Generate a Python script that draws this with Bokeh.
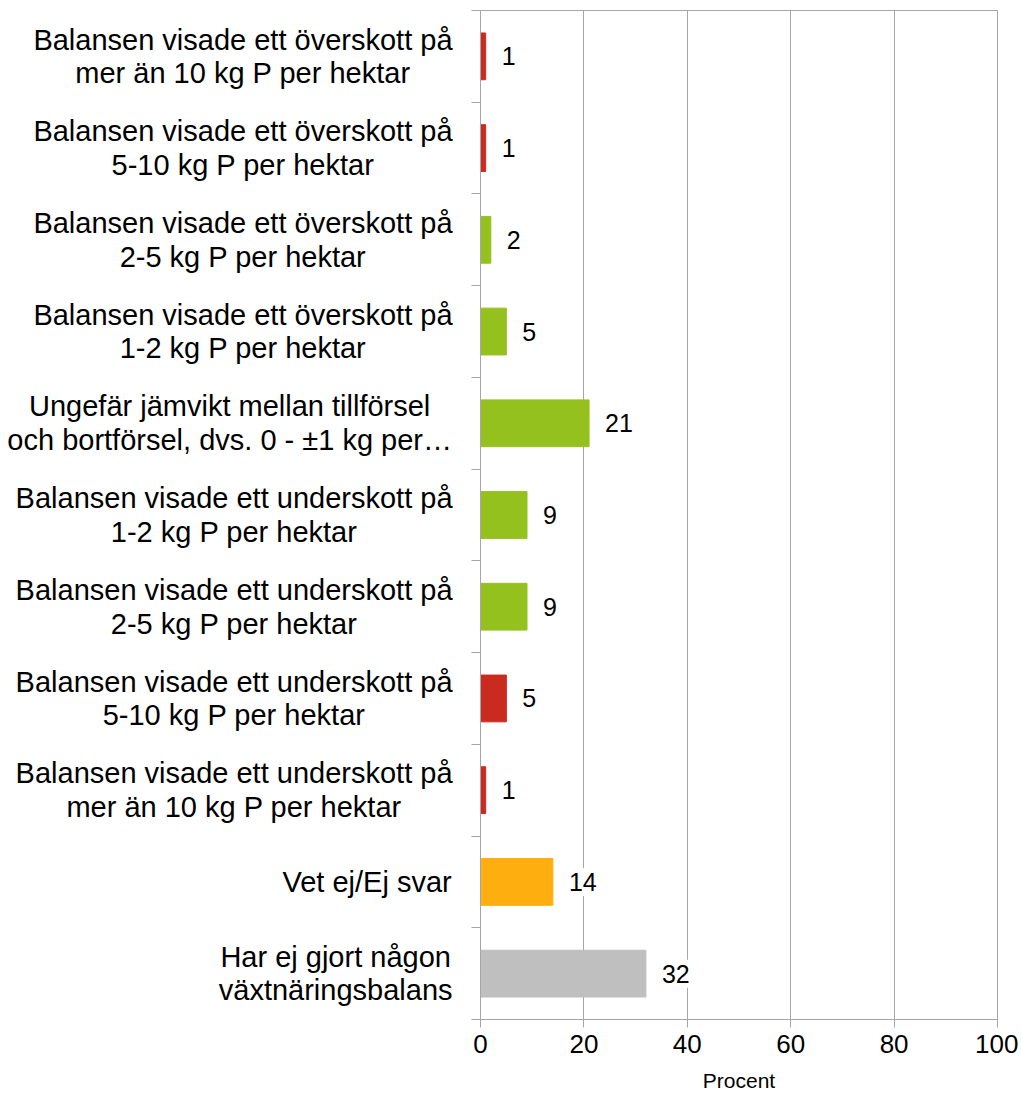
from bokeh.plotting import figure
from bokeh.models import ColumnDataSource, FixedTicker, LabelSet, Range1d
from bokeh.layouts import row
from bokeh.core.properties import value
from bokeh.embed import file_html
from bokeh.resources import INLINE

categories = [
    "Balansen visade ett överskott på\nmer än 10 kg P per hektar",
    "Balansen visade ett överskott på\n5-10 kg P per hektar",
    "Balansen visade ett överskott på\n2-5 kg P per hektar",
    "Balansen visade ett överskott på\n1-2 kg P per hektar",
    "Ungefär jämvikt mellan tillförsel\noch bortförsel, dvs. 0 - ±1 kg per…",
    "Balansen visade ett underskott på\n1-2 kg P per hektar",
    "Balansen visade ett underskott på\n2-5 kg P per hektar",
    "Balansen visade ett underskott på\n5-10 kg P per hektar",
    "Balansen visade ett underskott på\nmer än 10 kg P per hektar",
    "Vet ej/Ej svar",
    "Har ej gjort någon\nväxtnäringsbalans",
]
values = [1, 1, 2, 5, 21, 9, 9, 5, 1, 14, 32]
colors = ["#CB2A1F", "#CB2A1F", "#95C11F", "#95C11F", "#95C11F", "#95C11F",
          "#95C11F", "#CB2A1F", "#CB2A1F", "#FFAE10", "#BFBFBF"]
x_ticks = [0, 20, 40, 60, 80, 100]
x_label = "Procent"

FONT = "Liberation Sans"
GRID = "#A6A6A6"
CAT_SIZE = 29
LEFT_W = 471        # width of the label panel (px)
LABEL_RIGHT = 452   # right edge of category label blocks (px)
FRAME_TOP = 10
FRAME_H = 1009

# Arial / Liberation Sans advance widths (per 1000 em) for text measurement
_W = {" ": 278, ",": 278, "-": 333, ".": 278, "/": 278, "±": 584, "…": 1000,
      "B": 667, "E": 667, "H": 722, "P": 667, "U": 722, "V": 667,
      "c": 500, "f": 278, "i": 222, "j": 222, "k": 500, "l": 222, "m": 833,
      "r": 333, "s": 500, "t": 278, "v": 500, "x": 500, "y": 500}


def text_width(s, size):
    return sum(_W.get(ch, 556) for ch in s) * size / 1000.0


n = len(categories)
ypos = [n - i for i in range(n)]
cat_x = [LABEL_RIGHT - max(text_width(l, CAT_SIZE) for l in c.split("\n")) / 2
         for c in categories]

source = ColumnDataSource(dict(y=ypos, v=values, c=colors,
                               t=[str(v) for v in values]))
cat_source = ColumnDataSource(dict(y=ypos, text=categories, x=cat_x))

# ---- main chart ----
p = figure(frame_width=517, frame_height=FRAME_H, output_backend="svg",
           toolbar_location=None, x_range=Range1d(0, 100),
           y_range=Range1d(0.5, n + 0.5),
           min_border_left=9, min_border_top=FRAME_TOP, min_border_right=21,
           min_border_bottom=4)
p.outline_line_color = GRID
p.outline_line_width = 1

p.hbar(y="y", right="v", left=0, height=0.51, color="c", source=source)

labels = LabelSet(x="v", y="y", text="t", source=source, x_offset=16,
                  text_align="left", text_baseline="middle",
                  text_font=value(FONT), text_font_size="25px",
                  text_color="#000000",
                  background_fill_color="white",
                  border_line_color="white", border_line_width=10)
p.add_layout(labels)

# x axis
p.xaxis.ticker = FixedTicker(ticks=x_ticks)
p.xaxis.axis_label = x_label
p.xaxis.axis_label_text_font = FONT
p.xaxis.axis_label_text_font_size = "21px"
p.xaxis.axis_label_text_font_style = "normal"
p.xaxis.axis_label_text_color = "#000000"
p.xaxis.axis_label_standoff = 13
p.xaxis.major_label_text_font = FONT
p.xaxis.major_label_text_font_size = "26px"
p.xaxis.major_label_text_color = "#000000"
p.xaxis.major_label_standoff = 7
p.xaxis.major_tick_out = 8
p.xaxis.major_tick_in = 0
p.xaxis.minor_tick_out = 0
p.xaxis.minor_tick_in = 0
p.xaxis.axis_line_color = GRID
p.xaxis.major_tick_line_color = GRID

# y axis: only boundary ticks (as minor ticks), labels in the left panel
p.yaxis.ticker = FixedTicker(ticks=[],
                             minor_ticks=[k + 0.5 for k in range(n + 1)])
p.yaxis.major_label_standoff = 0
p.yaxis.major_tick_out = 0
p.yaxis.major_tick_in = 0
p.yaxis.minor_tick_out = 9
p.yaxis.minor_tick_in = 0
p.yaxis.axis_line_color = GRID
p.yaxis.minor_tick_line_color = GRID

p.xgrid.grid_line_color = GRID
p.ygrid.grid_line_color = None

# ---- category label panel ----
lp = figure(frame_width=LEFT_W, frame_height=FRAME_H, output_backend="svg",
            toolbar_location=None, x_range=Range1d(0, LEFT_W),
            y_range=p.y_range, x_axis_location=None, y_axis_location=None,
            min_border_left=0, min_border_right=0, min_border_top=FRAME_TOP,
            min_border_bottom=0)
lp.outline_line_color = None
lp.grid.visible = False
lp.text(x="x", y="y", text="text", source=cat_source, text_align="center",
        text_baseline="middle", text_font=value(FONT),
        text_font_size=f"{CAT_SIZE}px", text_color="#000000",
        text_line_height=1.05)

layout = row(lp, p)
open("out.html", "w").write(file_html(layout, INLINE))
